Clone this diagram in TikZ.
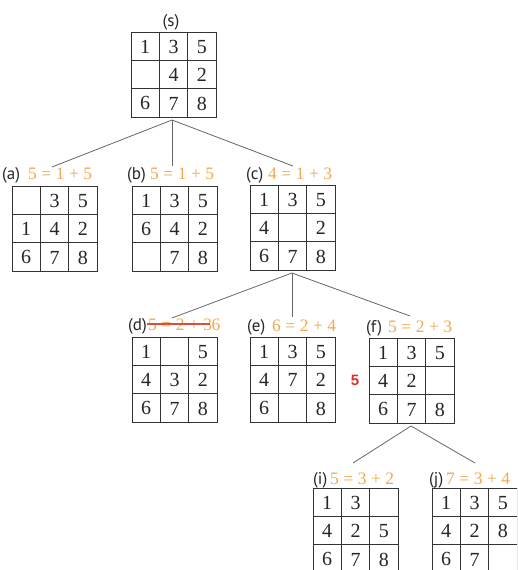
\documentclass[tikz,border=0pt]{standalone}
\usepackage{fontspec}
\setmainfont{Liberation Serif}
\newfontfamily\digfont{Liberation Serif}
\newfontfamily\labfont{PT Sans}
\newfontfamily\redfont{Liberation Sans}
\definecolor{eqorange}{RGB}{242,168,80}
\definecolor{redfive}{RGB}{225,45,40}
\definecolor{strikecol}{RGB}{215,80,60}
\tikzset{
  cellline/.style={draw=black!80, line width=0.9pt},
  gridbox/.style={draw=black!80, line width=0.9pt, minimum size=85pt, inner sep=0pt, outer sep=0pt},
  digit/.style={font=\digfont\fontsize{20}{20}\selectfont, inner sep=0pt, text=black!85},
  lab/.style={font=\labfont\fontsize{17}{17}\selectfont, anchor=base west, inner sep=0pt, text=black!85},
  eqn/.style={font=\digfont\fontsize{17.5}{17.5}\selectfont, text=eqorange, anchor=base west, inner sep=0pt},
  conn/.style={draw=black!60, line width=0.8pt},
}
\newcommand\eqsp{\hspace{4.5pt}}
\newcommand\eqt[3]{#1\eqsp=\eqsp#2\eqsp+\eqsp#3}
\newcommand\puz[4]{%
  \node[gridbox] (#1) at ({#2+42.5},{#3+42.5}) {};
  \draw[cellline] ({#2+28.333},#3) -- ({#2+28.333},{#3+85})
                  ({#2+56.667},#3) -- ({#2+56.667},{#3+85})
                  (#2,{#3+28.333}) -- ({#2+85},{#3+28.333})
                  (#2,{#3+56.667}) -- ({#2+85},{#3+56.667});
  \foreach \v [count=\k from 0] in {#4} {
    \pgfmathtruncatemacro\rr{\k/3}
    \pgfmathtruncatemacro\cc{mod(\k,3)}
    \node[digit] (#1-\k) at ({#2+14.17+28.333*\cc},{#3+14.8+28.333*\rr}) {\v};
  }%
}
\begin{document}
\begin{tikzpicture}[x=1pt,y=-1pt]
\useasboundingbox (0,0) rectangle (517,570);
\clip (0,0) rectangle (517,570);

% grids
\puz{s}{131}{32}{1,3,5,{},4,2,6,7,8}
\puz{a}{12}{186}{{},3,5,1,4,2,6,7,8}
\puz{b}{132}{186}{1,3,5,6,4,2,{},7,8}
\puz{c}{250}{185}{1,3,5,4,{},2,6,7,8}
\puz{d}{132}{337}{1,{},5,4,3,2,6,7,8}
\puz{e}{250}{337}{1,3,5,4,7,2,6,{},8}
\puz{f}{369}{338}{1,3,5,4,2,{},6,7,8}
\puz{i}{313}{488}{1,3,{},4,2,5,6,7,8}
\puz{j}{432}{488}{1,3,5,4,2,8,6,7,{}}

% labels
\node[lab, anchor=base] (ls) at (171,27) {(s)};
\node[lab] (la) at (2,179) {(a)};
\node[eqn] (ea) at (28,179) {\eqt{5}{1}{5}};
\node[lab] (lb) at (127,179) {(b)};
\node[eqn] (eb) at (150,179) {\eqt{5}{1}{5}};
\node[lab] (lc) at (246,179) {(c)};
\node[eqn] (ec) at (268,179) {\eqt{4}{1}{3}};
\node[lab] (ld) at (128,330) {(d)};
\node[eqn] (ed) at (148,330) {\eqt{5}{2}{3}};
\node[eqn, anchor=base west] (ed6) at ([xshift=-1pt]ed.base east) {6};
\draw[strikecol, line width=1.3pt] ([xshift=-1pt]ed.west |- 0,324) -- ([xshift=-2pt]ed.east |- 0,324);
\node[lab] (le) at (247,331) {(e)};
\node[eqn] (ee) at (272,331) {\eqt{6}{2}{4}};
\node[lab] (lf) at (366,332) {(f)};
\node[eqn] (ef) at (388,332) {\eqt{5}{2}{3}};
\node[font=\redfont\bfseries\fontsize{15}{15}\selectfont, text=redfive, inner sep=0pt] (r5) at (355,380) {5};
\node[lab] (li) at (313,484) {(i)};
\node[eqn] (ei) at (330,484) {\eqt{5}{3}{2}};
\node[lab] (lj) at (429,484) {(j)};
\node[eqn] (ej) at (446,484) {\eqt{7}{3}{4}};

% connector ends
\coordinate (ta) at (52,167);
\coordinate (tb) at (172,166);
\coordinate (tc) at (293,166);
\coordinate (td) at (172,318);
\coordinate (te) at (292,317);
\coordinate (tf) at (410,316);
\coordinate (ti) at (353,463);
\coordinate (tj) at (475,463);
\coordinate (fs) at (172,120);
\coordinate (fc) at (292,273);
\coordinate (ff) at (411,426);

\draw[conn] (fs) -- (ta);
\draw[conn] (fs) -- (tb);
\draw[conn] (fs) -- (tc);
\draw[conn] (fc) -- (td);
\draw[conn] (fc) -- (te);
\draw[conn] (fc) -- (tf);
\draw[conn] (ff) -- (ti);
\draw[conn] (ff) -- (tj);
\end{tikzpicture}
\end{document}
